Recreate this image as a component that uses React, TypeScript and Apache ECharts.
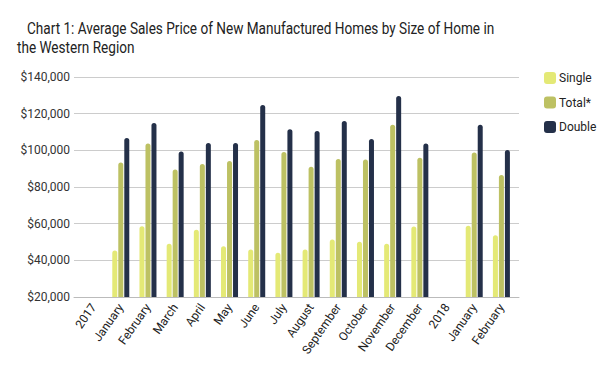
import React, { useEffect, useRef } from "react";
import * as echarts from "echarts";

const categories = ["2017", "January", "February", "March", "April", "May", "June", "July", "August", "September", "October", "November", "December", "2018", "January", "February"];
const singleValues = [null, 45300, 58600, 49100, 56700, 47700, 45900, 44200, 45900, 51300, 50200, 49100, 58400, null, 58900, 53700];
const totalValues = [null, 93400, 103700, 89600, 92600, 94200, 105700, 99100, 91000, 95300, 95000, 114000, 95900, null, 98800, 86600];
const doubleValues = [null, 106700, 114900, 99400, 104000, 104000, 124700, 111500, 110500, 116000, 106200, 129600, 103700, null, 114000, 100200];
const seriesNames = ["Single", "Total*", "Double"];
const colors = ["#e4e976", "#bdc163", "#243049"];
const titleLines = ["Chart 1: Average Sales Price of New Manufactured Homes by Size of Home in", "the Western Region"];
const yMin = 20000;
const yMax = 140000;
const yStep = 20000;

export default function App() {
  const ref = useRef<HTMLDivElement>(null);
  useEffect(() => {
    const chart = echarts.init(ref.current!, null, { renderer: "svg" });
    const font = "Roboto, sans-serif";
    const data = [singleValues, totalValues, doubleValues];
    chart.setOption({
      animation: false,
      textStyle: { fontFamily: font },
      graphic: [
        {
          type: "text",
          x: 27,
          y: 28,
          scaleX: 0.8,
          style: { text: titleLines[0], font: "17px Roboto, sans-serif", fill: "#222", verticalAlign: "middle" },
        },
        {
          type: "text",
          x: 17,
          y: 47,
          scaleX: 0.8,
          style: { text: titleLines[1], font: "17px Roboto, sans-serif", fill: "#222", verticalAlign: "middle" },
        },
      ],
      legend: {
        orient: "vertical",
        left: 539,
        top: 67,
        itemWidth: 12,
        itemHeight: 12,
        itemGap: 12.5,
        icon: "roundRect",
        textStyle: { fontFamily: font, fontSize: 12, color: "#222", padding: [0, 0, 0, -2] },
        data: seriesNames,
      },
      grid: [
        { left: 74, right: 97, top: 77, bottom: 77, containLabel: false },
        { left: 80, right: 101, top: 77, bottom: 77, containLabel: false },
      ],
      xAxis: [
        {
          gridIndex: 0,
          type: "value",
          min: 0,
          max: 1,
          show: true,
          axisLabel: { show: false },
          axisTick: { show: false },
          splitLine: { show: false },
          axisLine: { show: true, lineStyle: { color: "#bbb" } },
        },
        {
          gridIndex: 1,
          type: "category",
          data: categories,
          axisTick: { show: false },
          axisLine: { show: false },
          axisLabel: { rotate: 55, interval: 0, fontFamily: font, fontSize: 12, color: "#222", margin: 8 },
        },
      ],
      yAxis: [
        {
          gridIndex: 0,
          type: "value",
          min: yMin,
          max: yMax,
          interval: yStep,
          axisLine: { show: false },
          axisTick: { show: false },
          splitLine: { lineStyle: { color: "#ccc" } },
          axisLabel: {
            fontFamily: font,
            fontSize: 12,
            color: "#333",
            margin: 4,
            formatter: (v: number) => "$" + v.toLocaleString("en-US"),
          },
        },
        {
          gridIndex: 1,
          type: "value",
          min: yMin,
          max: yMax,
          interval: yStep,
          show: false,
          splitLine: { show: false },
        },
      ],
      series: seriesNames.map((name, i) => ({
        name,
        type: "bar",
        xAxisIndex: 1,
        yAxisIndex: 1,
        data: data[i],
        barWidth: 5,
        barGap: "20%",
        itemStyle: { color: colors[i], borderRadius: [3, 3, 0, 0] },
      })),
    });
    return () => chart.dispose();
  }, []);
  return <div ref={ref} style={{ position: "absolute", left: 0, top: 0, width: 616, height: 374 }} />;
}
